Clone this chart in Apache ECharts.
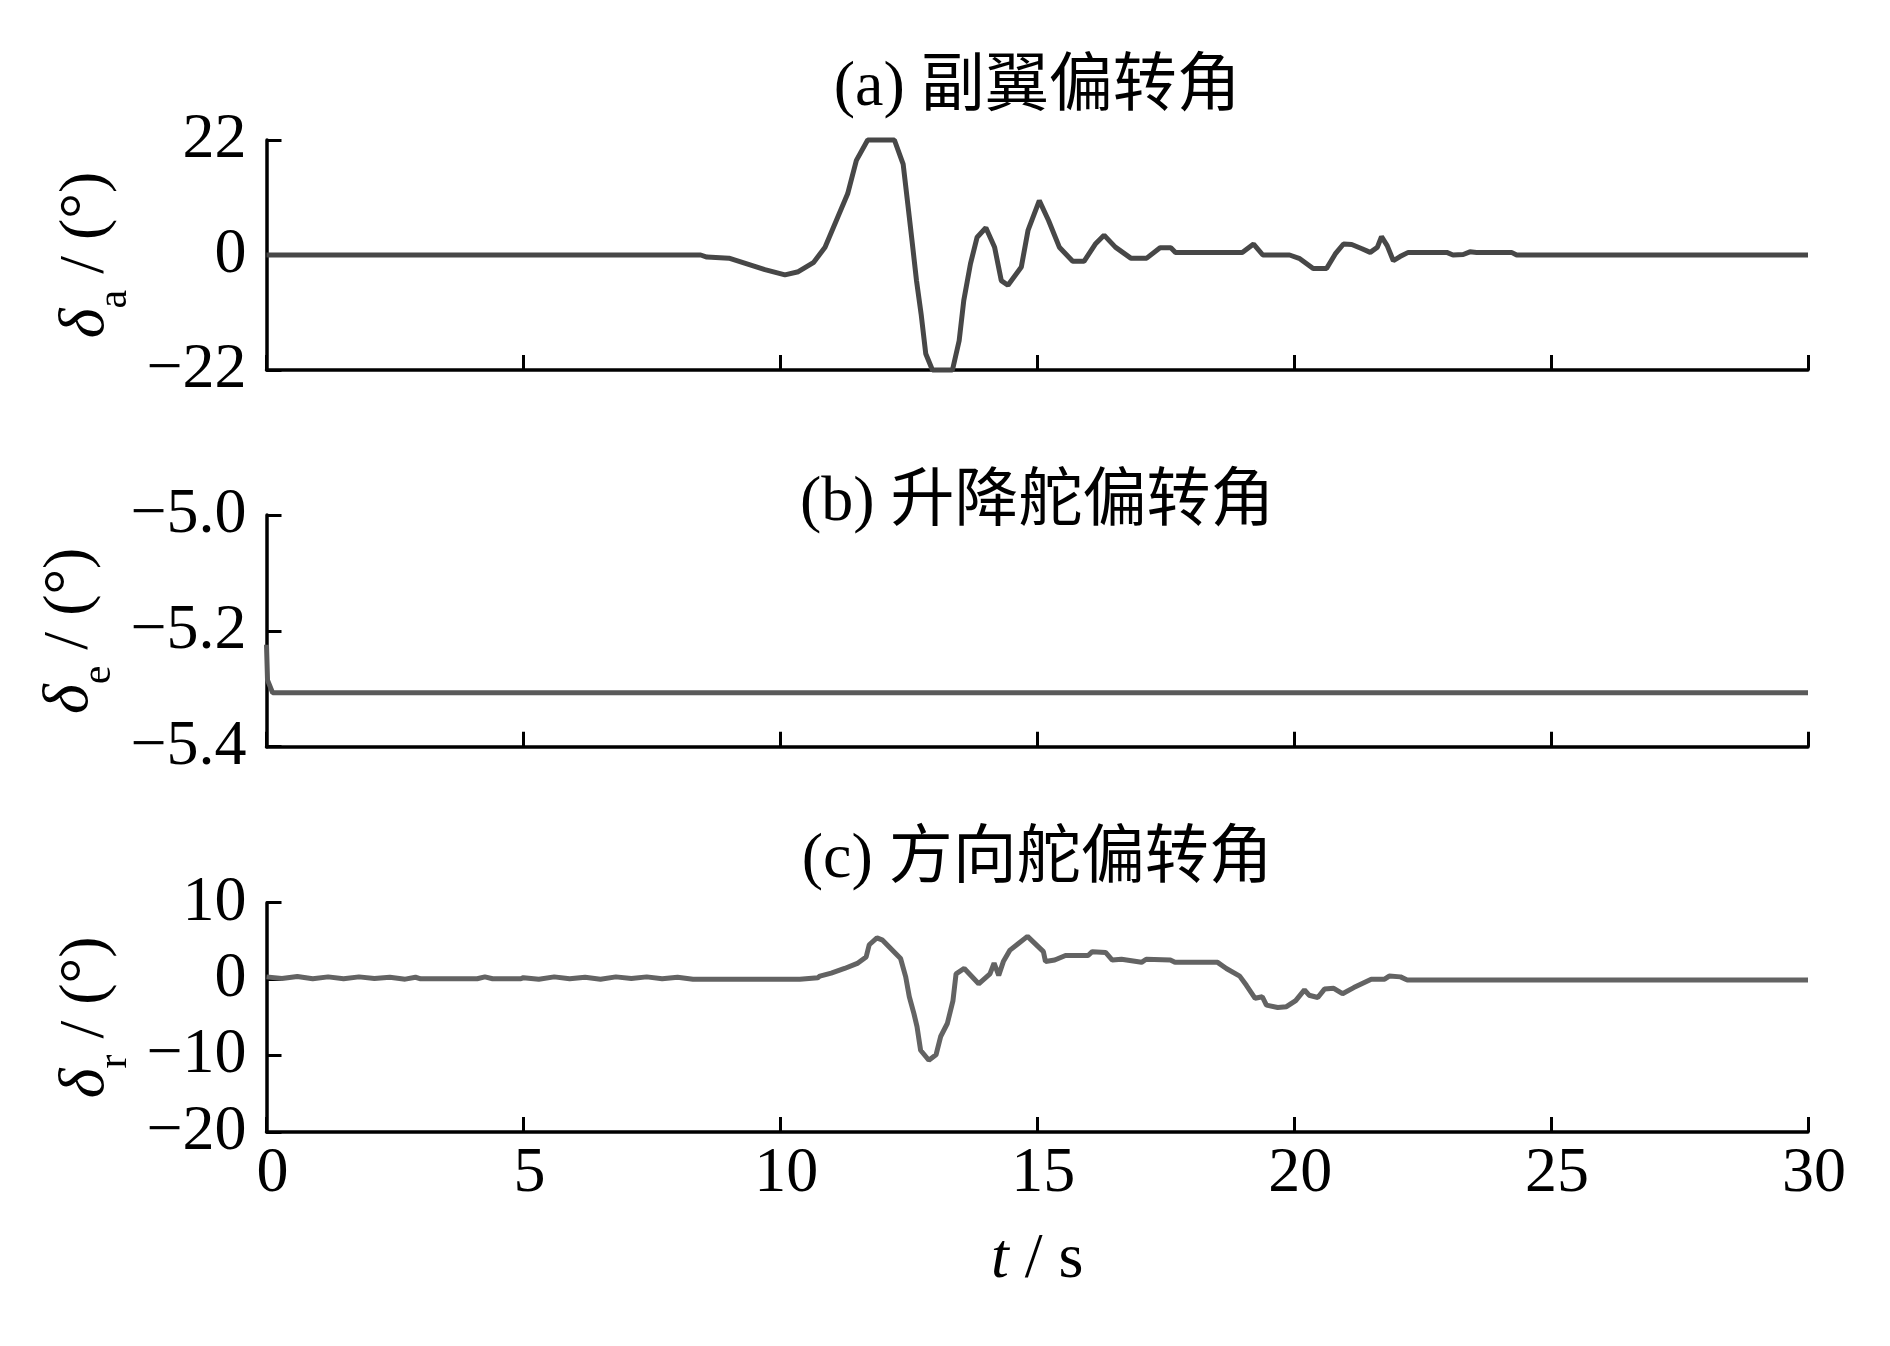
<!DOCTYPE html>
<html>
<head>
<meta charset="utf-8">
<script src="https://cdn.jsdelivr.net/npm/echarts@6/dist/echarts.min.js"></script>
<style>
html,body{margin:0;padding:0;background:#fff;}
#chart{width:1890px;height:1346px;}
</style>
</head>
<body>
<div id="chart"></div>
<script>
// ---------- data ----------
const panelTitles = ['(a) 副翼偏转角', '(b) 升降舵偏转角', '(c) 方向舵偏转角'];
const xTicks = [0, 5, 10, 15, 20, 25, 30];
const yTicksA = [-22, 0, 22];
const yTicksB = [-5.4, -5.2, -5.0];
const yTicksC = [-20, -10, 0, 10];

// (a) aileron deflection
const timeA = [0, 8.45, 8.57, 9.0, 9.35, 9.7, 10.09, 10.35, 10.65, 10.87, 11.09, 11.31, 11.48, 11.7, 12.22,
  12.39, 12.48, 12.57, 12.65, 12.74, 12.83, 12.96, 13.35, 13.48, 13.57, 13.7, 13.83, 14.0, 14.17, 14.3,
  14.43, 14.69, 14.82, 15.04, 15.22, 15.43, 15.69, 15.91, 16.13, 16.3, 16.52, 16.82, 17.13, 17.39, 17.6,
  17.69, 18.99, 19.21, 19.39, 19.91, 20.11, 20.37, 20.63, 20.8, 20.96, 21.12, 21.32, 21.48, 21.62, 21.7,
  21.81, 21.93, 22.06, 22.22, 22.97, 23.09, 23.29, 23.42, 23.55, 24.23, 24.33, 30];
const valA = [0, 0, -0.4, -0.6, -1.7, -2.8, -3.8, -3.2, -1.4, 1.5, 6.6, 11.7, 18.1, 22, 22,
  17.4, 9.8, 2.1, -4.9, -11.3, -18.9, -22, -22, -16.4, -8.7, -1.7, 3.4, 5.2, 1.5, -4.9,
  -5.8, -2.3, 4.7, 10.4, 6.6, 1.5, -1.2, -1.2, 2.1, 3.8, 1.5, -0.6, -0.6, 1.4, 1.4,
  0.5, 0.5, 2.1, 0, 0, -0.7, -2.6, -2.6, 0.2, 2.1, 2.0, 1.2, 0.5, 1.5, 3.5,
  1.8, -1.1, -0.3, 0.5, 0.5, 0, 0.1, 0.6, 0.5, 0.5, 0, 0];

// (b) elevator deflection
const timeB = [0, 0.02, 0.12, 30];
const valB = [-5.224, -5.285, -5.307, -5.307];

// (c) rudder deflection
const timeC = [0, 0.3, 0.6, 0.9, 1.2, 1.5, 1.8, 2.1, 2.4, 2.7, 2.9, 3.0, 4.1, 4.25, 4.4, 4.95,
  5.0, 5.3, 5.6, 5.9, 6.2, 6.5, 6.8, 7.1, 7.4, 7.7, 8.0, 8.3, 10.38,
  10.73, 10.77, 10.99, 11.25, 11.51, 11.67, 11.73, 11.88, 11.99, 12.34, 12.44, 12.51, 12.6, 12.66, 12.73,
  12.89, 13.03, 13.12, 13.25, 13.36, 13.42, 13.58, 13.86, 14.08, 14.16, 14.25, 14.34, 14.47, 14.64, 14.81,
  15.12, 15.16, 15.34, 15.55, 15.99, 16.07, 16.33, 16.46, 16.64, 17.03, 17.12, 17.59, 17.68, 18.51, 18.68,
  18.94, 19.07, 19.24, 19.38, 19.46, 19.68, 19.85, 20.03, 20.2, 20.29, 20.46, 20.59, 20.77, 20.94, 21.16,
  21.5, 21.76, 21.85, 22.07, 22.2, 30];
const valC = [0.3, 0.1, 0.35, 0.05, 0.3, 0.05, 0.3, 0.1, 0.25, 0.0, 0.25, 0.05, 0.05, 0.3, 0.05, 0.05,
  0.2, 0.0, 0.3, 0.05, 0.25, 0.0, 0.3, 0.1, 0.3, 0.05, 0.25, 0.0, 0.0,
  0.2, 0.4, 0.8, 1.4, 2.1, 2.9, 4.5, 5.4, 5.1, 2.7, 0.3, -2.3, -4.5, -6.2, -9.3,
  -10.6, -9.9, -7.5, -5.8, -2.8, 0.7, 1.4, -0.6, 0.7, 2.1, 0.5, 2.3, 3.8, 4.7, 5.6,
  3.6, 2.3, 2.5, 3.1, 3.1, 3.6, 3.5, 2.5, 2.6, 2.2, 2.6, 2.5, 2.2, 2.2, 1.4,
  0.4, -0.8, -2.5, -2.3, -3.4, -3.7, -3.6, -2.8, -1.4, -2.1, -2.4, -1.3, -1.2, -1.9, -1.1,
  0, 0, 0.4, 0.3, -0.1, -0.1];

// ---------- chart ----------
const zip = (t, v) => t.map((x, i) => [x, v[i]]);
const serif = "'Liberation Serif', 'Times New Roman', serif";
const titleFont = "64px 'Liberation Serif', 'Noto Sans CJK SC', serif";
const minus = s => String(s).replace('-', '\u2212');

const gridLeft = 266.5, gridWidth = 1541.5;
const grids = [
  { left: gridLeft, width: gridWidth, top: 140, height: 230 },
  { left: gridLeft, width: gridWidth, top: 515, height: 231.7 },
  { left: gridLeft, width: gridWidth, top: 902.7, height: 229.4 }
];

const axisLineStyle = { color: '#000', width: 3.5 };
function xAxis(i, showLabel) {
  return {
    type: 'value', gridIndex: i, min: xTicks[0], max: xTicks[xTicks.length - 1], interval: 5,
    axisLine: { show: true, onZero: false, lineStyle: axisLineStyle },
    axisTick: { show: true, inside: true, length: 15, lineStyle: { color: '#000', width: 3 } },
    splitLine: { show: false },
    axisLabel: { show: showLabel, fontFamily: serif, fontSize: 64, color: '#000', margin: 10,
      padding: [0, 0, 0, 12] },
    name: showLabel ? '{i|t}{n| / s}' : '',
    nameLocation: 'middle', nameGap: 96,
    nameTextStyle: { rich: {
      i: { fontFamily: serif, fontStyle: 'italic', fontSize: 64, color: '#000' },
      n: { fontFamily: serif, fontSize: 64, color: '#000' } } }
  };
}
function yAxis(i, ticks, sub, fmt) {
  return {
    type: 'value', gridIndex: i, min: ticks[0], max: ticks[ticks.length - 1],
    interval: +(ticks[1] - ticks[0]).toFixed(3),
    axisLine: { show: true, onZero: false, lineStyle: axisLineStyle },
    axisTick: { show: true, inside: true, length: 15, lineStyle: { color: '#000', width: 3 } },
    splitLine: { show: false },
    axisLabel: { fontFamily: serif, fontSize: 64, color: '#000', margin: 20,
      formatter: v => minus(fmt ? fmt(v) : v) },
    name: '{d|δ}{s|' + sub + '}{n| / (°)}',
    nameLocation: 'middle', nameRotate: 90, nameGap: 146,
    nameTextStyle: { rich: {
      d: { fontFamily: serif, fontStyle: 'italic', fontSize: 64, lineHeight: 64, color: '#000' },
      s: { fontFamily: serif, fontSize: 42, lineHeight: 42, padding: [56, 0, 0, 0], color: '#000' },
      n: { fontFamily: serif, fontSize: 64, lineHeight: 64, color: '#000' } } }
  };
}
function lineSeries(i, data, color) {
  return {
    type: 'line', xAxisIndex: i, yAxisIndex: i, data: data, showSymbol: false, clip: false,
    lineStyle: { color: color, width: 5 }, animation: false
  };
}

const chart = echarts.init(document.getElementById('chart'), null, { renderer: 'canvas' });
chart.setOption({
  backgroundColor: '#fff',
  animation: false,
  grid: grids,
  xAxis: [xAxis(0, false), xAxis(1, false), xAxis(2, true)],
  yAxis: [yAxis(0, yTicksA, 'a'), yAxis(1, yTicksB, 'e', v => v.toFixed(1)), yAxis(2, yTicksC, 'r')],
  series: [
    lineSeries(0, zip(timeA, valA), '#474747'),
    lineSeries(1, zip(timeB, valB), '#5a5a5a'),
    lineSeries(2, zip(timeC, valC), '#636363')
  ],
  graphic: panelTitles.map((t, i) => ({
    type: 'text', x: gridLeft + gridWidth / 2, y: [88, 503, 860][i],
    style: { text: t, font: titleFont, fill: '#000', textAlign: 'center', textVerticalAlign: 'middle' }
  }))
});
</script>
</body>
</html>
